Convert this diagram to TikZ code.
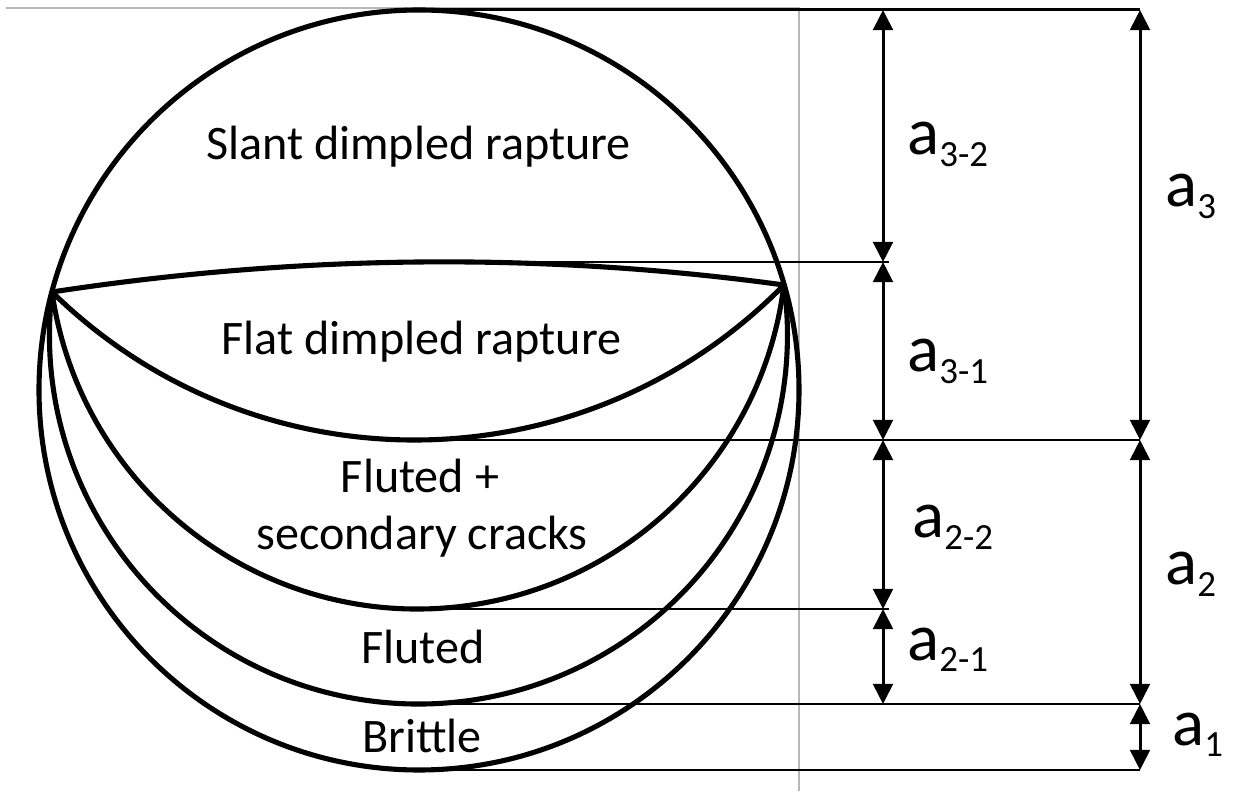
\documentclass[tikz,border=0pt]{standalone}
\usepackage{fontspec}
\setmainfont{Carlito}
\usetikzlibrary{arrows.meta}
\newcommand\subidx[1]{\raisebox{-6.6pt}{\fontsize{21}{21}\selectfont #1}}
\begin{document}
\begin{tikzpicture}[x=0.02cm,y=0.02cm,
  rim/.style={line width=2.9pt, line join=round},
  level/.style={line width=1.7pt},
  dimarrow/.style={line width=1.7pt,
    {Triangle[width=11.3pt,length=11.5pt]}-{Triangle[width=11.3pt,length=11.5pt]}},
  zone/.style={font=\fontsize{27.4}{33}\selectfont, inner sep=0pt, anchor=base},
  dimlabel/.style={font=\fontsize{38}{40}\selectfont, inner sep=0pt, anchor=base west},
  frame/.style={draw=black!28, line width=0.6pt}]

\useasboundingbox (0,0) rectangle (1233,791);

% light frame at the top and right
\draw[frame] (6,783) -- (799,783) -- (799,0);

% end points shared by all boundaries
\coordinate (L) at (52,499);
\coordinate (R) at (784,506);

% lowest points of each zone boundary
\coordinate (t0) at (419,781);
\coordinate (t1) at (420,529);
\coordinate (t2) at (416,351);
\coordinate (t3) at (418,182);
\coordinate (t4) at (419,87);
\coordinate (t5) at (419,21);

% columns of the dimension arrows
\coordinate (ix) at (883,0);
\coordinate (ox) at (1140,0);
\coordinate (iend) at (889,0);

% specimen outline and zone boundaries
\draw[rim] (419,401) circle[radius=380];
\draw[rim] (L) .. controls (298.7,536.7) and (542.7,539) .. (R);
\draw[rim] (L) arc[start angle=225.57, end angle=315.53, radius=517.8];
\draw[rim] (L) arc[start angle=188.13, end angle=352.97, radius=369.2];
\draw[rim] (L) arc[start angle=173.30, end angle=367.80, radius=369.0];

% extension lines
\draw[level] (t0) -- (t0 -| ox);
\draw[level] (t1) -- (t1 -| iend);
\draw[level] (t2) -- (t2 -| ox);
\draw[level] (t3) -- (t3 -| iend);
\draw[level] (t4) -- (t4 -| ox);
\draw[level] (t5) -- (t5 -| ox);

% inner dimensions
\draw[dimarrow] (t0 -| ix) -- (t1 -| ix);
\draw[dimarrow] (t1 -| ix) -- (t2 -| ix);
\draw[dimarrow] (t2 -| ix) -- (t3 -| ix);
\draw[dimarrow] (t3 -| ix) -- (t4 -| ix);

% outer dimensions
\draw[dimarrow] (t0 -| ox) -- (t2 -| ox);
\draw[dimarrow] (t2 -| ox) -- (t4 -| ox);
\draw[dimarrow] (t4 -| ox) -- (t5 -| ox);

% zone names
\node[zone] (slant) at (418.5,631) {Slant dimpled rapture};
\node[zone] (flat) at (421.5,436) {Flat dimpled rapture};
\node[zone] (flut1) at (420,298) {Fluted +};
\node[zone] (flut2) at (422,241) {secondary cracks};
\node[zone] (fluted) at (423,128) {Fluted};
\node[zone] (brittle) at (422,39) {Brittle};

% dimension names
\node[dimlabel] (a32) at (907,636) {a\subidx{3-2}};
\node[dimlabel] (a31) at (907,419) {a\subidx{3-1}};
\node[dimlabel] (a22) at (912,253) {a\subidx{2-2}};
\node[dimlabel] (a21) at (907,131) {a\subidx{2-1}};
\node[dimlabel] (a3) at (1165,584) {a\subidx{3}};
\node[dimlabel] (a2) at (1165,206) {a\subidx{2}};
\node[dimlabel] (a1) at (1172,46) {a\subidx{1}};
\end{tikzpicture}
\end{document}
